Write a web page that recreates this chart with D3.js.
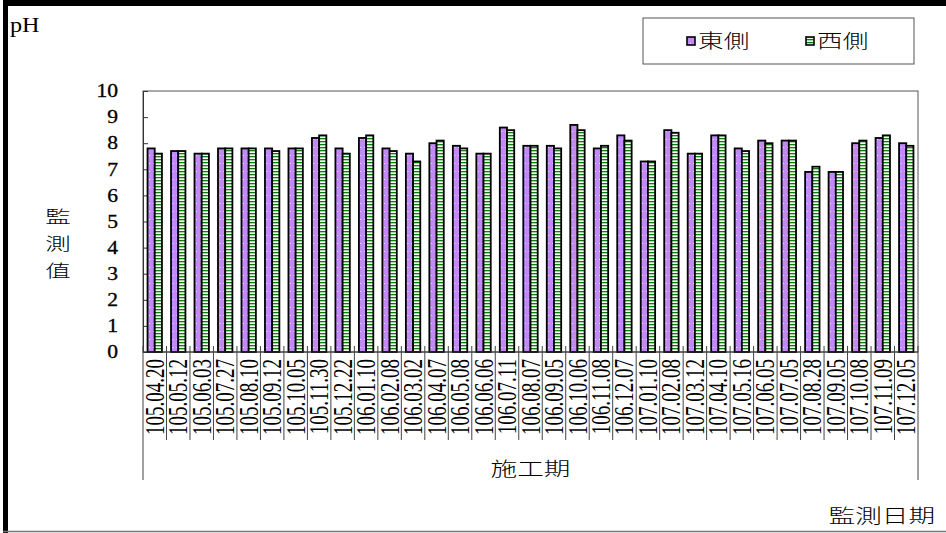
<!DOCTYPE html>
<html><head><meta charset="utf-8">
<script src="https://cdn.jsdelivr.net/npm/d3@7"></script>
<style>
html,body{margin:0;padding:0;background:#fff;}
svg{display:block;}
</style></head>
<body>
<svg id="chart" width="946" height="533"></svg>
<script>
const categories = ["105.04.20","105.05.12","105.06.03","105.07.27","105.08.10","105.09.12","105.10.05","105.11.30","105.12.22","106.01.10","106.02.08","106.03.02","106.04.07","106.05.08","106.06.06","106.07.11","106.08.07","106.09.05","106.10.06","106.11.08","106.12.07","107.01.10","107.02.08","107.03.12","107.04.10","107.05.16","107.06.05","107.07.05","107.08.28","107.09.05","107.10.08","107.11.09","107.12.05"];
const eastValues = [7.8,7.7,7.6,7.8,7.8,7.8,7.8,8.2,7.8,8.2,7.8,7.6,8.0,7.9,7.6,8.6,7.9,7.9,8.7,7.8,8.3,7.3,8.5,7.6,8.3,7.8,8.1,8.1,6.9,6.9,8.0,8.2,8.0];
const westValues = [7.6,7.7,7.6,7.8,7.8,7.7,7.8,8.3,7.6,8.3,7.7,7.3,8.1,7.8,7.6,8.5,7.9,7.8,8.5,7.9,8.1,7.3,8.4,7.6,8.3,7.7,8.0,8.1,7.1,6.9,8.1,8.3,7.9];
const seriesNames = ["東側","西側"];
const yTicks = [0,1,2,3,4,5,6,7,8,9,10];
const yTitle = ["監","測","值"];
const groupLabel = "施工期";
const xTitle = "監測日期";
const unitLabel = "pH";

const svg = d3.select("#chart");
const serif = "'Liberation Serif','Times New Roman',serif";
const cjk = "'Noto Sans CJK TC','Noto Sans CJK SC',sans-serif";
const cjkWeight = 300;

// outer frame
svg.append("rect").attr("x",0).attr("y",0).attr("width",946).attr("height",533).attr("fill","#fff");
svg.append("rect").attr("x",3).attr("y",0).attr("width",943).attr("height",6).attr("fill","#000");
svg.append("rect").attr("x",3).attr("y",0).attr("width",5).attr("height",533).attr("fill","#000");
svg.append("line").attr("x1",3).attr("x2",946).attr("y1",531.5).attr("y2",531.5).attr("stroke","#777").attr("stroke-width",1.5);

// patterns
const defs = svg.append("defs");
const pp = defs.append("pattern").attr("id","purp").attr("patternUnits","userSpaceOnUse").attr("width",4).attr("height",8);
pp.append("rect").attr("width",4).attr("height",8).attr("fill","#c28af6");
pp.append("rect").attr("x",2).attr("y",3).attr("width",1).attr("height",1).attr("fill","#f4e8ff");
const gp = defs.append("pattern").attr("id","grn").attr("patternUnits","userSpaceOnUse").attr("width",4).attr("height",3);
gp.append("rect").attr("width",4).attr("height",3).attr("fill","#fff");
gp.append("rect").attr("y",0).attr("width",4).attr("height",1).attr("fill","#0c7c0c");
gp.append("rect").attr("y",1).attr("width",4).attr("height",1).attr("fill","#a6d8a6");

const L = 143, R = 918, T = 91, B = 352;
const x = d3.scaleBand().domain(categories).range([L,R]).padding(0);
const xs = d3.scaleBand().domain(seriesNames).range([0,x.bandwidth()]).paddingInner(0).paddingOuter(0.63);
const y = d3.scaleLinear().domain([0,10]).range([B,T]);

// plot frame
svg.append("rect").attr("x",L).attr("y",T).attr("width",R-L).attr("height",B-T)
  .attr("fill","none").attr("stroke","#555").attr("stroke-width",1);

// y axis
const yAxis = d3.axisLeft(y).tickValues(yTicks).tickSizeInner(-5).tickSizeOuter(0).tickPadding(25).tickFormat(d3.format("d"));
const yg = svg.append("g").attr("transform",`translate(${L},0)`).call(yAxis);
yg.select(".domain").attr("stroke","#333");
yg.selectAll(".tick line").attr("stroke","#333");
yg.selectAll(".tick text").attr("font-family",serif).attr("font-size",18).attr("fill","#000")
  .attr("stroke","#000").attr("stroke-width",0.3)
  .attr("x",-25/1.2).attr("transform","scale(1.2,1)");

// bars
const data = categories.map((c,i)=>({c, vals:[{s:seriesNames[0],v:eastValues[i]},{s:seriesNames[1],v:westValues[i]}]}));
const grp = svg.append("g").selectAll("g").data(data).join("g").attr("transform",d=>`translate(${x(d.c)},0)`);
grp.selectAll("rect").data(d=>d.vals).join("rect")
  .attr("x",d=>xs(d.s)).attr("width",xs.bandwidth())
  .attr("y",d=>y(d.v)).attr("height",d=>y(0)-y(d.v))
  .attr("fill",d=>d.s===seriesNames[0]?"url(#purp)":"url(#grn)")
  .attr("stroke","#000").attr("stroke-width",1.8);

// x axis line
svg.append("line").attr("x1",L).attr("x2",R).attr("y1",B).attr("y2",B).attr("stroke","#333");

// category separators
const seps = categories.map(c=>x(c)).concat([R]);
svg.append("g").selectAll("line").data(seps).join("line")
  .attr("x1",d=>d).attr("x2",d=>d)
  .attr("y1",346).attr("y2",(d,i)=>(i===0||i===seps.length-1)?480:440)
  .attr("stroke","#444").attr("stroke-width",1);

// x labels
svg.append("g").selectAll("text").data(categories).join("text")
  .attr("transform",d=>`translate(${x(d)+x.bandwidth()/2},359) rotate(-90) scale(1,1.4)`)
  .attr("text-anchor","end").attr("dy","0.34em")
  .attr("font-family",serif).attr("font-size",19).attr("fill","#000")
  .text(d=>d);

// group label
svg.append("text").attr("transform",`translate(${(L+R)/2},476) scale(1.4,1)`)
  .attr("text-anchor","middle").attr("font-family",cjk).attr("font-weight",cjkWeight).attr("font-size",19).text(groupLabel);

// x title
svg.append("text").attr("transform",`translate(935,523) scale(1.4,1)`)
  .attr("text-anchor","end").attr("font-family",cjk).attr("font-weight",cjkWeight).attr("font-size",19).text(xTitle);

// y title
svg.append("g").selectAll("text").data(yTitle).join("text")
  .attr("transform",(d,i)=>`translate(58,${223+i*27}) scale(1.5,1)`)
  .attr("text-anchor","middle").attr("font-family",cjk).attr("font-weight",cjkWeight).attr("font-size",17).text(d=>d);

// unit
svg.append("text").attr("transform","translate(10,32) scale(1.1,1)")
  .attr("font-family",serif).attr("font-size",22).text(unitLabel);

// legend
const lg = svg.append("g");
lg.append("rect").attr("x",643).attr("y",18).attr("width",271).attr("height",46)
  .attr("fill","#fff").attr("stroke","#555").attr("stroke-width",1);
const legX = [687,806];
seriesNames.forEach((s,i)=>{
  lg.append("rect").attr("x",legX[i]).attr("y",37).attr("width",8).attr("height",8)
    .attr("fill",i===0?"url(#purp)":"url(#grn)").attr("stroke","#000").attr("stroke-width",1.6);
  lg.append("text").attr("transform",`translate(${legX[i]+11},48) scale(1.35,1)`)
    .attr("font-family",cjk).attr("font-weight",cjkWeight).attr("font-size",19).text(s);
});
</script>
</body></html>
